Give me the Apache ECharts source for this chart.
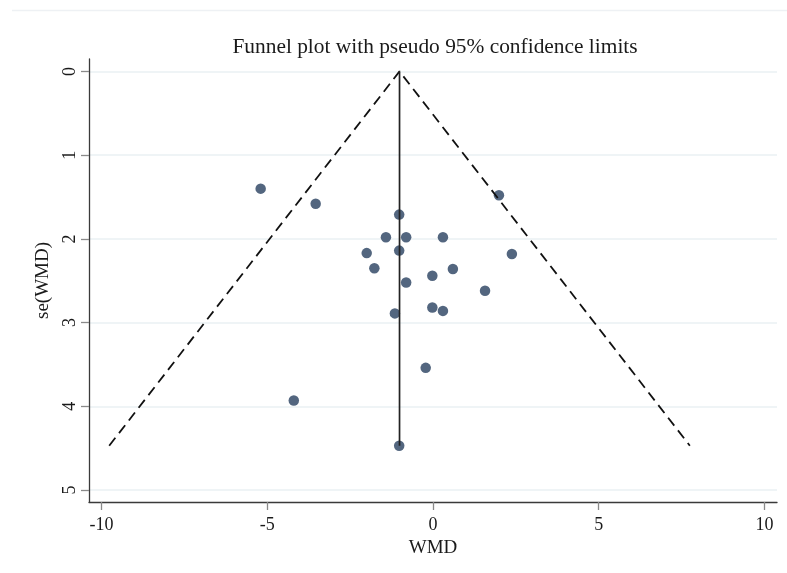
<!DOCTYPE html>
<html>
<head>
<meta charset="utf-8">
<script src="https://cdn.jsdelivr.net/npm/echarts@6/dist/echarts.min.js"></script>
<style>html,body{margin:0;padding:0;background:#fff}#chart{width:787px;height:573px}</style>
</head>
<body>
<div id="chart"></div>
<script>
// Study estimates
const wmd = [-5.20, -3.54, -1.02, 1.99, -1.42, -0.81, 0.30, -2.00, -1.02, 2.38, -1.77, 0.60, -0.02, -0.81, 1.57, -0.02, 0.30, -1.15, -0.22, -4.20, -1.02];
const seWmd = [1.40, 1.58, 1.71, 1.48, 1.98, 1.98, 1.98, 2.17, 2.14, 2.18, 2.35, 2.36, 2.44, 2.52, 2.62, 2.82, 2.86, 2.89, 3.54, 3.93, 4.47];
// Pooled estimate line and pseudo 95% limits
const pooledX = [-1.01, -1.01];
const pooledY = [0, 4.47];
const funnelX = [-9.77, -1.01, 7.75];
const funnelY = [4.47, 0, 4.47];
// Tick labels
const xTicks = [-10, -5, 0, 5, 10];
const yTicks = [0, 1, 2, 3, 4, 5];

const font = '"Liberation Serif", "Times New Roman", serif';
const chart = echarts.init(document.getElementById('chart'), null, {renderer: 'canvas'});
chart.setOption({
  backgroundColor: '#ffffff',
  animation: false,
  title: {
    text: 'Funnel plot with pseudo 95% confidence limits',
    left: 430, top: 32, textAlign: 'center',
    textStyle: {fontFamily: font, fontSize: 21.4, fontWeight: 'normal', color: '#1a1a1a'}
  },
  graphic: [{
    type: 'line', shape: {x1: 12, y1: 10.5, x2: 787, y2: 10.5},
    style: {stroke: '#eef1f4', lineWidth: 1.5}, silent: true
  }],
  grid: {left: 89, right: 10, top: 59, bottom: 71, containLabel: false},
  xAxis: {
    type: 'value', min: -10.38, max: 10.38,
    name: 'WMD', nameLocation: 'middle', nameGap: 35,
    nameTextStyle: {fontFamily: font, fontSize: 19, color: '#1a1a1a'},
    axisLine: {show: true, onZero: false, lineStyle: {color: '#3a3a3a', width: 1.3}},
    axisTick: {show: true, length: 8, customValues: xTicks, lineStyle: {color: '#8a8a8a', width: 1.3}},
    axisLabel: {customValues: xTicks, margin: 14, fontFamily: font, fontSize: 18, color: '#1a1a1a'},
    splitLine: {show: false}
  },
  yAxis: {
    type: 'value', inverse: true, min: -0.148, max: 5.142,
    name: 'se(WMD)', nameLocation: 'middle', nameGap: 36, nameRotate: 90,
    nameTextStyle: {fontFamily: font, fontSize: 19, color: '#1a1a1a'},
    axisLine: {show: true, onZero: false, lineStyle: {color: '#3a3a3a', width: 1.3}},
    axisTick: {show: true, length: 8, customValues: yTicks, lineStyle: {color: '#8a8a8a', width: 1.3}},
    axisLabel: {customValues: yTicks, rotate: 90, margin: 10, fontFamily: font, fontSize: 18, color: '#1a1a1a'},
    splitLine: {show: true, lineStyle: {color: '#eaf0f3', width: 1.5}}
  },
  series: [
    {
      type: 'line', name: 'limits',
      data: funnelX.map((x, i) => [x, funnelY[i]]),
      showSymbol: false, symbol: 'none', silent: true,
      lineStyle: {color: '#111', width: 1.8, type: [10, 6]}
    },
    {
      type: 'line', name: 'pooled',
      data: pooledX.map((x, i) => [x, pooledY[i]]),
      showSymbol: false, symbol: 'none', silent: true,
      lineStyle: {color: '#222', width: 1.7}
    },
    {
      type: 'scatter', name: 'studies',
      data: wmd.map((x, i) => [x, seWmd[i]]),
      symbolSize: 10.5,
      itemStyle: {color: '#53667f', opacity: 1}
    }
  ]
});
</script>
</body>
</html>
